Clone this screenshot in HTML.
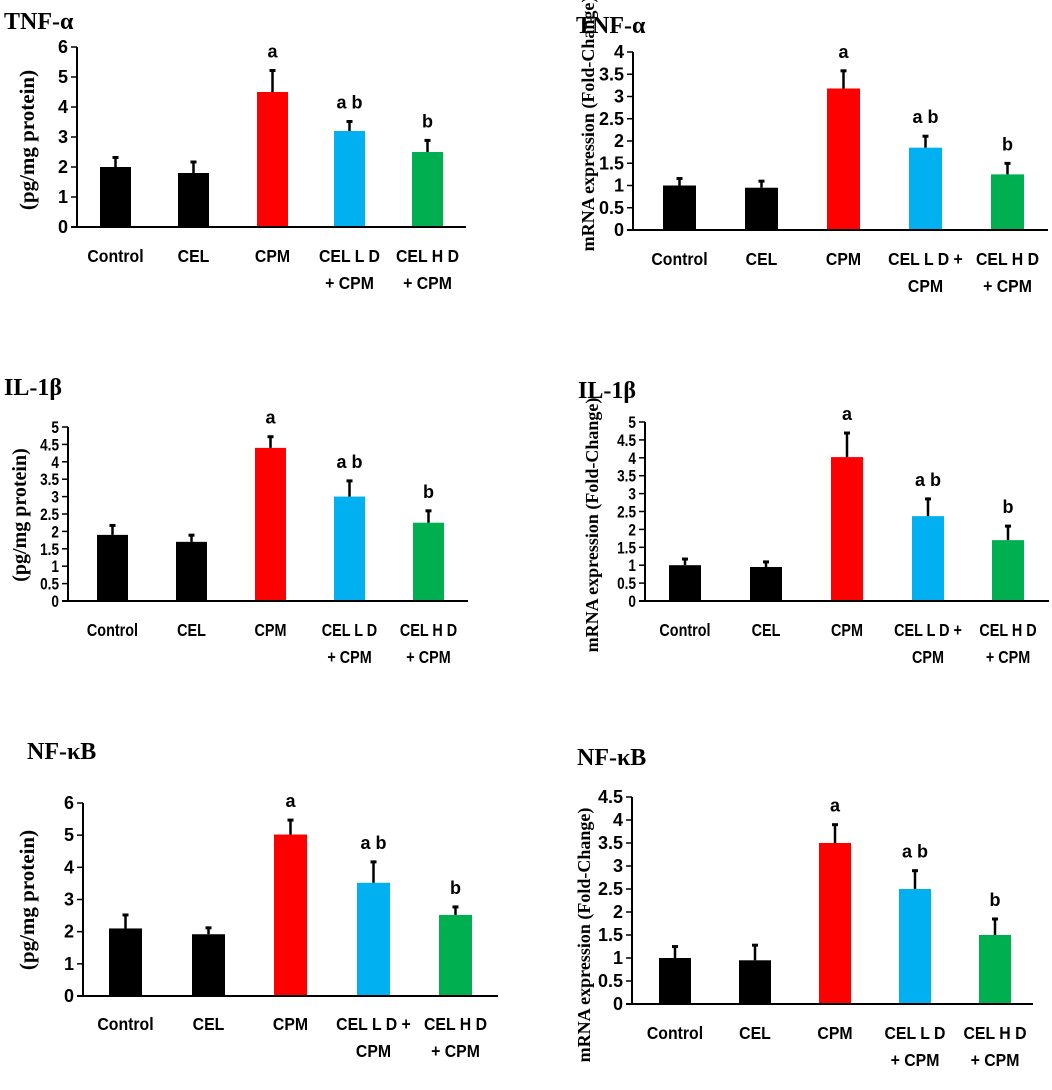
<!DOCTYPE html>
<html><head><meta charset="utf-8"><style>
html,body{margin:0;padding:0;background:#fff;}
svg{display:block;}
.t{font-family:"Liberation Serif",serif;font-weight:bold;}
.s{font-family:"Liberation Sans",sans-serif;font-weight:bold;}
</style></head><body>
<svg id="fig" width="1052" height="1090" viewBox="0 0 1052 1090" xmlns="http://www.w3.org/2000/svg"></svg>
<script>
const categories = ["Control","CEL","CPM","CEL L D","CEL H D"];
const tnfProtein = [2.0,1.8,4.5,3.2,2.5];
const tnfProteinErr = [2.35,2.2,5.25,3.55,2.92];
const tnfMrna = [1.0,0.95,3.18,1.85,1.25];
const tnfMrnaErr = [1.18,1.12,3.6,2.13,1.52];
const ilProtein = [1.9,1.7,4.4,3.0,2.25];
const ilProteinErr = [2.2,1.92,4.75,3.48,2.62];
const ilMrna = [1.0,0.95,4.02,2.37,1.7];
const ilMrnaErr = [1.2,1.12,4.72,2.88,2.12];
const nfProtein = [2.1,1.92,5.02,3.52,2.52];
const nfProteinErr = [2.55,2.15,5.5,4.2,2.8];
const nfMrna = [1.0,0.95,3.5,2.5,1.5];
const nfMrnaErr = [1.27,1.3,3.92,2.92,1.87];
const sigLetters = ["","","a","a b","b"];
const labelsA = [["Control"],["CEL"],["CPM"],["CEL L D","+ CPM"],["CEL H D","+ CPM"]];
const labelsB = [["Control"],["CEL"],["CPM"],["CEL L D +","CPM"],["CEL H D","+ CPM"]];
const ticks6 = [0,1,2,3,4,5,6];
const ticks4 = [0,0.5,1,1.5,2,2.5,3,3.5,4];
const ticks5 = [0,0.5,1,1.5,2,2.5,3,3.5,4,4.5,5];
const ticks45 = [0,0.5,1,1.5,2,2.5,3,3.5,4,4.5];
const colors = ["#000000","#000000","#ff0000","#00b0f0","#00b050"];

const NS="http://www.w3.org/2000/svg";
const svg=document.getElementById('fig');
function mk(tag,attrs,parent){const e=document.createElementNS(NS,tag);for(const k in attrs)e.setAttribute(k,attrs[k]);(parent||svg).appendChild(e);return e;}

const panels=[
 {id:"tnf-protein",title:"TNF-α",tx:4,ty:29,ax:77,ay0:227,ayTop:47,tmax:6,ticks:ticks6,axEnd:466,bx:[100,178,257,334,412],bw:31,vals:tnfProtein,err:tnfProteinErr,labels:labelsA,ly:262,yl:"(pg/mg protein)",ylx:34,yly:140,ylfs:21},
 {id:"tnf-mrna",title:"TNF-α",tx:576,ty:33,ax:633,ay0:230,ayTop:52,tmax:4,ticks:ticks4,axEnd:1048,bx:[663,745,827,909,991],bw:33,vals:tnfMrna,err:tnfMrnaErr,labels:labelsB,ly:265,yl:"mRNA expression (Fold-Change)",ylx:594,yly:124,ylfs:18},
 {id:"il-protein",title:"IL-1β",tx:4,ty:395,ax:68,ay0:601,ayTop:427,tmax:5,ticks:ticks5,axEnd:468,bx:[97,176,255,334,413],bw:31,vals:ilProtein,err:ilProteinErr,labels:labelsA,ly:636,yl:"(pg/mg protein)",ylx:26,yly:515,ylfs:20,cond:true},
 {id:"il-mrna",title:"IL-1β",tx:578,ty:398,ax:645,ay0:601,ayTop:422,tmax:5,ticks:ticks5,axEnd:1049,bx:[669,750,831,912,992],bw:32,vals:ilMrna,err:ilMrnaErr,labels:labelsB,ly:636,yl:"mRNA expression (Fold-Change)",ylx:598,yly:525,ylfs:18,cond:true},
 {id:"nf-protein",title:"NF-κB",tx:27,ty:759,ax:83,ay0:996,ayTop:803,tmax:6,ticks:ticks6,axEnd:498,bx:[109,192,274,357,439],bw:33,vals:nfProtein,err:nfProteinErr,labels:labelsB,ly:1030,yl:"(pg/mg protein)",ylx:34,yly:900,ylfs:21},
 {id:"nf-mrna",title:"NF-κB",tx:577,ty:765,ax:632,ay0:1004,ayTop:797,tmax:4.5,ticks:ticks45,axEnd:1033,bx:[659,739,819,899,979],bw:32,vals:nfMrna,err:nfMrnaErr,labels:labelsA,ly:1039,yl:"mRNA expression (Fold-Change)",ylx:590,yly:935,ylfs:18}
];

panels.forEach(p=>{
  const g=mk('g',{});
  
  
  const yS=v=>p.ay0-(v/p.tmax)*(p.ay0-p.ayTop);
  const t=mk('text',{x:p.tx,y:p.ty,class:'t','font-size':24},g);
  t.textContent=p.title;
  
  
  const yl=mk('text',{x:0,y:0,class:'t','font-size':p.ylfs,'text-anchor':'middle',transform:`translate(${p.ylx},${p.yly}) rotate(-90)`},g);
  yl.textContent=p.yl;
  
  
  p.vals.forEach((v,i)=>{
    const x=p.bx[i], cx=x+p.bw/2;
    const top=yS(v), et=yS(p.err[i]);
    const r=mk('rect',{x:x,y:top,width:p.bw,height:p.ay0-top,fill:colors[i]},g);
    
    
    const el=mk('line',{x1:cx,x2:cx,y1:top,y2:et,stroke:'#000','stroke-width':2.5},g);
    
    
    const cap=mk('line',{x1:cx-3,x2:cx+3,y1:et+1,y2:et+1,stroke:'#000','stroke-width':3},g);
    
    
    if(sigLetters[i]){
      const s=mk('text',{x:cx,y:et-12,class:'s','font-size':18,'text-anchor':'middle'},g);
      s.textContent=sigLetters[i];
      
      
    }
    p.labels[i].forEach((ln,k)=>{
      const lt=mk('text',{x:cx,y:p.ly+k*27,class:'s','font-size':18,'text-anchor':'middle'},g);
      const sc=p.cond?0.8:0.88;
      lt.setAttribute('transform',`translate(${cx},0) scale(${sc},1) translate(${-cx},0)`);
      lt.textContent=ln;
      
      
    });
  });
  const ya=mk('line',{x1:p.ax,x2:p.ax,y1:p.ayTop,y2:p.ay0,stroke:'#000','stroke-width':2},g);
  
  
  const xa=mk('line',{x1:p.ax-6,x2:p.axEnd,y1:p.ay0,y2:p.ay0,stroke:'#000','stroke-width':2},g);
  
  
  p.ticks.forEach(tv=>{
    const y=yS(tv);
    const tk=mk('line',{x1:p.ax-6,x2:p.ax,y1:y,y2:y,stroke:'#000','stroke-width':1.5},g);
    
    
    const fs=p.cond?17:18;
    const tl=mk('text',{x:p.ax-9,y:y+6,class:'s','font-size':fs,'text-anchor':'end'},g);
    if(p.cond) tl.setAttribute('transform',`translate(${p.ax-9},0) scale(0.8,1) translate(${-(p.ax-9)},0)`);
    tl.textContent=String(tv);
    
    
  });
});
</script>
</body></html>
